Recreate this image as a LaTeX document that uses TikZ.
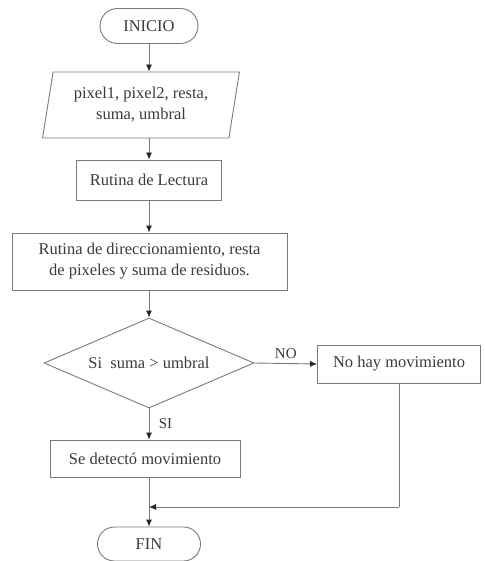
\documentclass[tikz,border=0pt]{standalone}
\usepackage{fontspec}
\setmainfont{Liberation Serif}
\usepackage{tikz}
\usetikzlibrary{positioning,arrows.meta,shapes.geometric,shapes.misc}

\definecolor{linegray}{HTML}{7A7A7A}
\definecolor{textgray}{HTML}{3A3A3A}

\begin{document}
\begin{tikzpicture}[x=1pt,y=-1pt,
  every node/.style={font=\fontsize{16.5}{21}\selectfont,text=textgray},
  terminal/.style={draw=linegray,line width=0.9pt,rounded rectangle,minimum width=102pt,minimum height=35pt,inner sep=2pt},
  datos/.style={draw=linegray,line width=0.9pt,trapezium,trapezium left angle=78,trapezium right angle=102,
    trapezium stretches=true,minimum width=197pt,minimum height=66pt,inner sep=2pt,align=center},
  proceso/.style={draw=linegray,line width=0.9pt,rectangle,inner sep=2pt,align=center},
  decision/.style={draw=linegray,line width=0.9pt,diamond,aspect=2.33,minimum width=210pt,minimum height=90pt,inner sep=0pt},
  flecha/.style={draw=linegray,line width=0.9pt,-{Latex[length=7pt,width=6pt,color=black!85]}},
  linea/.style={draw=linegray,line width=0.9pt}]
  \useasboundingbox (0,0) rectangle (484,561);

  % Inicio
  \node[terminal] (inicio) at (149,26) {INICIO};

  % Datos de entrada
  \node[datos] (datos) at (141,105) {pixel1, pixel2, resta,\\ suma, umbral};

  % Lectura
  \node[proceso,minimum width=145pt,minimum height=40pt] (lectura) at (149,180) {Rutina de Lectura};

  % Direccionamiento
  \node[proceso,minimum width=275pt,minimum height=57pt] (direc) at (149.5,261.5)
    {Rutina de direccionamiento, resta\\ de pixeles y suma de residuos.};

  % Decision
  \node[decision] (umbral) at (149,363) {Si\ \ suma > umbral};

  % Salidas
  \node[proceso,minimum width=163pt,minimum height=38pt] (nohay) at (399,364) {No hay movimiento};
  \node[proceso,minimum width=190pt,minimum height=37pt] (detecto) at (145,458.5) {Se detectó movimiento};

  % Fin
  \node[terminal,minimum width=107pt,minimum height=34pt] (fin) at (149,544) {FIN};

  % Conectores
  \draw[flecha] (inicio.south) -- (inicio.south |- datos.north);
  \draw[flecha] (inicio.south |- datos.south) -- (lectura.north);
  \draw[flecha] (lectura.south) -- (lectura.south |- direc.north);
  \draw[flecha] (direc.south -| umbral.north) -- (umbral.north);
  \draw[flecha] (umbral.east) -- (nohay.west) node[midway,above=1pt,font=\fontsize{15}{18}\selectfont] {NO};
  \draw[flecha] (umbral.south) -- (umbral.south |- detecto.north) node[midway,right=6pt,font=\fontsize{15}{18}\selectfont] {SI};
  \coordinate (union) at (149,507);
  \draw[flecha] (detecto.south -| fin.north) -- (fin.north);
  \draw[linea] (nohay.south) -- (nohay.south |- union);
  \draw[flecha] (nohay.south |- union) -- (union);
\end{tikzpicture}
\end{document}
